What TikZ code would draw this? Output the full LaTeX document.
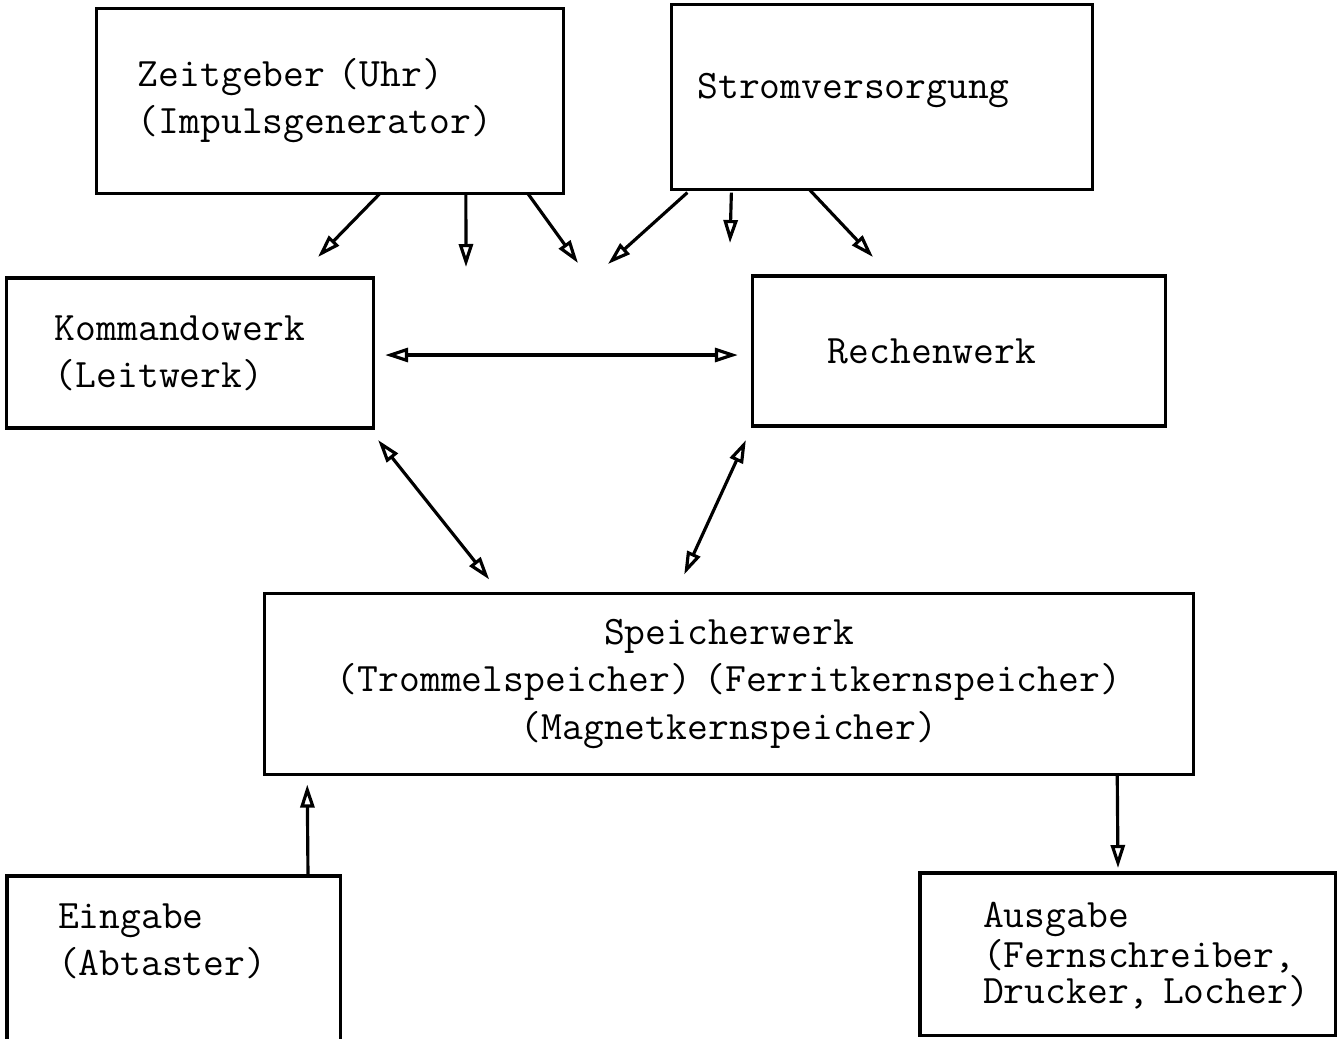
\documentclass[tikz,border=0pt]{standalone}
\usepackage{tikz}
\usetikzlibrary{arrows.meta,calc}

\begin{document}
\begin{tikzpicture}[
  x=0.01cm, y=-0.01cm,
  box/.style={draw, line width=0.9pt, outer sep=0pt, align=left, inner ysep=0pt,
    font=\ttfamily\fontsize{11.5}{13.4}\selectfont},
  arr/.style={-{Triangle[open, length=2.3mm, width=1.4mm]}, line width=0.9pt},
  dbl/.style={{Triangle[open, length=2.3mm, width=1.4mm]}-{Triangle[open, length=2.3mm, width=1.4mm]}, line width=0.9pt}
]
\useasboundingbox (0,0) rectangle (1339,1038);

\node[box, minimum height=1.85cm, inner xsep=0.41cm, text width=3.84cm] (uhr) at (330,101) {Zeitgeber (Uhr)\\(Impulsgenerator)};
\node[box, minimum height=1.85cm, inner xsep=0.26cm, text width=3.69cm, text depth=0.22cm] (strom) at (882,97) {Stromversorgung};
\node[box, minimum height=1.50cm, inner xsep=0.48cm, text width=2.70cm] (leitwerk) at (190,353) {Kommandowerk\\(Leitwerk)};
\node[box, minimum height=1.50cm, inner xsep=0.75cm, text width=2.62cm] (rechenwerk) at (959,351) {Rechenwerk};
\node[box, align=center, minimum height=1.81cm, inner xsep=0.1cm, text width=9.09cm] (speicher) at (729,684) {Speicherwerk\\(Trommelspeicher) (Ferritkernspeicher)\\(Magnetkernspeicher)};
\node[box, anchor=north west, inner xsep=0.51cm, text width=2.31cm, text height=0.52cm, text depth=1.4cm] (eingabe) at (7,876) {Eingabe\\(Abtaster)};
\node[box, anchor=north west, inner xsep=0.63cm, text width=2.89cm, text height=0.54cm, text depth=1.08cm] (ausgabe) at (920,873) {Ausgabe\\[-0.07cm](Fernschreiber,\\[-0.11cm]Drucker,~Locher)};

% free ends of the supply arrows
\coordinate (u1) at (318,257);
\coordinate (u2) at (466,267);
\coordinate (u3) at (578,263);
\coordinate (s1) at (608,264);
\coordinate (s2) at (730,243);
\coordinate (s3) at (873,257);

\draw[arr] ($(uhr.south west)+(283,0)$) -- (u1);
\draw[arr] ($(uhr.south west)+(369,0)$) -- (u2);
\draw[arr] ($(uhr.south west)+(431,0)$) -- (u3);
\draw[arr] ($(strom.south west)+(16,3)$) -- (s1);
\draw[arr] ($(strom.south west)+(60,3)$) -- (s2);
\draw[arr] ($(strom.south west)+(138,0)$) -- (s3);

\draw[dbl, shorten <=0.12cm, shorten >=0.15cm] ($(leitwerk.east)+(0,2)$) -- ($(rechenwerk.west)+(0,4)$);
\draw[dbl] ($(leitwerk.south east)+(5,12)$) -- ($(speicher.north west)+(225,-14)$);
\draw[dbl] ($(rechenwerk.south west)+(-7,14)$) -- ($(speicher.north west)+(420,-19)$);
\draw[arr] ($(eingabe.north west)+(301,0)$) -- ($(speicher.south west)+(43,10)$);
\draw[arr] ($(speicher.south west)+(853,0)$) -- ($(ausgabe.north west)+(198,-5)$);
\end{tikzpicture}
\end{document}
